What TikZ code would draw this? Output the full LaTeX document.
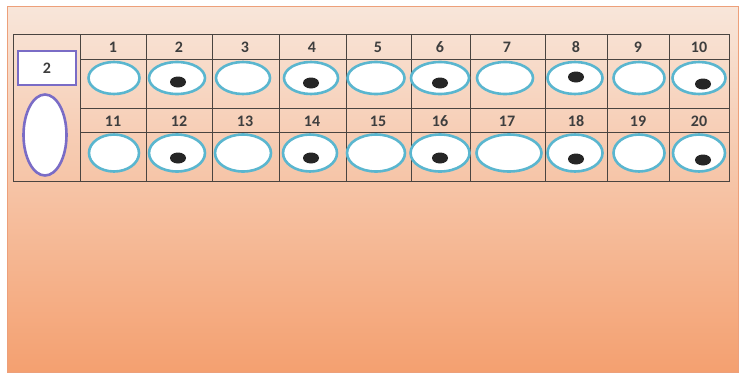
\documentclass[tikz,border=0pt]{standalone}
\usepackage{fontspec}
\setmainfont{Carlito}
\usetikzlibrary{shapes.geometric}
\definecolor{paneltop}{HTML}{F8E6DA}
\definecolor{panelmid}{HTML}{F6BE9C}
\definecolor{panelbot}{HTML}{F4A070}
\definecolor{panelline}{HTML}{EDA07A}
\definecolor{gridc}{HTML}{4A4440}
\definecolor{cyanring}{HTML}{5AB6CF}
\definecolor{purplering}{HTML}{7A6CC6}
\definecolor{numc}{HTML}{3E3E3E}
\tikzset{
  numlabel/.style={font=\bfseries\fontsize{16}{16}\selectfont, text=numc, inner sep=0pt},
  eye/.style={draw=cyanring, line width=2.6pt, fill=white},
  pupil/.style={fill=black!85, draw=none},
  gridline/.style={draw=gridc, line width=0.8pt},
}
\begin{document}
\begin{tikzpicture}[x=1pt,y=-1pt]
\useasboundingbox (0,0) rectangle (743,378);
\fill[white] (0,0) rectangle (743,378);
\shade[top color=paneltop, middle color=panelmid, bottom color=panelbot] (7,6) rectangle (738,372);
\draw[panelline, line width=0.8pt] (7,6) rectangle (738,372);
% grid
\draw[gridline] (13,34) rectangle (729,181);
\foreach \x in {80,146,212,279,346,411,470,545,607,669}
  \draw[gridline] (\x,34) -- (\x,181);
\draw[gridline] (80,59) -- (729,59);
\draw[gridline] (80,108) -- (729,108);
\draw[gridline] (80,132) -- (729,132);
% left column
\node[draw=purplering, line width=2.6pt, fill=white, minimum width=58pt, minimum height=34pt, inner sep=0pt, numlabel] (sel) at (47,68) {2};
\node[ellipse, draw=purplering, line width=2.6pt, fill=white, minimum width=43pt, minimum height=81pt, inner sep=0pt] (big) at (45,135) {};
% header labels
\foreach \n/\cx in {1/113,2/179,3/245,4/312,5/378,6/440,7/507,8/576,9/638,10/699}{
  \node[numlabel] (h\n) at (\cx,47) {\n};
}
\foreach \n/\cx in {11/113,12/179,13/245,14/312,15/378,16/440,17/507,18/576,19/638,20/699}{
  \node[numlabel] (h\n) at (\cx,121) {\n};
}
% row 1 eyes
\foreach \n/\cx/\w in {1/114/51,2/177/56,3/243/54,4/311/54,5/376/57,6/440/58,7/505/56,8/575/55,9/639/51,10/699/53}{
  \node[ellipse, eye, minimum width=\w pt, minimum height=32pt, inner sep=0pt] (e\n) at (\cx,78) {};
}
% row 2 eyes
\foreach \n/\cx/\w in {11/114/50,12/177/56,13/243/56,14/310/54,15/376/58,16/440/59,17/509/65,18/575/55,19/639/51,20/699/52}{
  \node[ellipse, eye, minimum width=\w pt, minimum height=37pt, inner sep=0pt] (e\n) at (\cx,153) {};
}
% pupils
\foreach \n/\px/\py in {2/178/82,4/311/83,6/440/83,8/576/77,10/703/84,12/178/158,14/311/158,16/440/158,18/576/159,20/703/160}{
  \node[ellipse, pupil, minimum width=16pt, minimum height=11pt, inner sep=0pt] (p\n) at (\px,\py) {};
}
\end{tikzpicture}
\end{document}
